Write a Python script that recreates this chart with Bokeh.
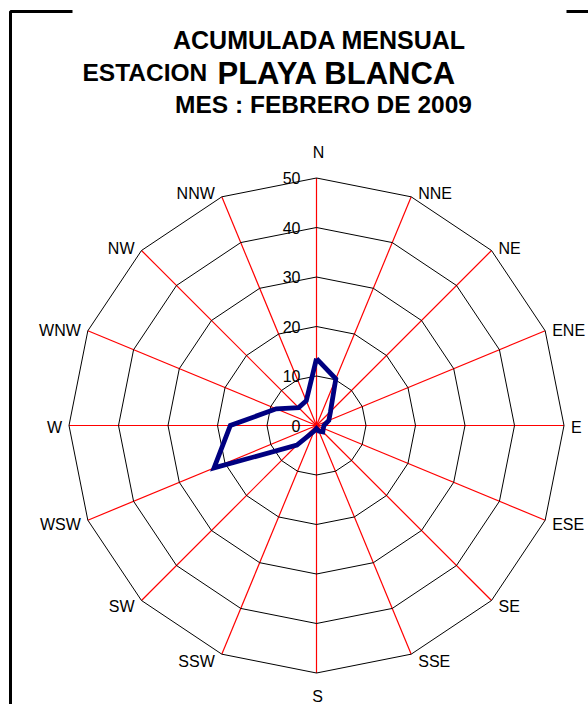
import numpy as np
from bokeh.plotting import figure
from bokeh.models import Range1d, Label
from bokeh.embed import file_html
from bokeh.resources import INLINE

# ---- data ----
directions = ["N", "NNE", "NE", "ENE", "E", "ESE", "SE", "SSE",
              "S", "SSW", "SW", "WSW", "W", "WNW", "NW", "NNW"]
acumulada = [13.5, 10.2, 4.0, 2.7, 1.5, 1.5, 1.8, 1.2,
             0.6, 1.2, 5.6, 22.4, 17.4, 8.8, 5.1, 5.4]
ring_values = [10, 20, 30, 40, 50]
tick_labels = ["0", "10", "20", "30", "40", "50"]
title1 = "ACUMULADA MENSUAL"
title2a = "ESTACION"
title2b = "PLAYA BLANCA"
title3 = "MES : FEBRERO DE 2009"

# ---- layout ----
W, H = 588, 704
OFF = 0
CX, CY = 316, 425          # pixel centre
S = 4.95                   # px per unit
FONT = "Liberation Sans"

def px(xp, yp):
    return ((xp - CX) / S, (CY - yp) / S)

x0, y0 = px(OFF, OFF)
x1, y1 = px(OFF + W, OFF + H)

p = figure(width=W, height=H, output_backend="svg", toolbar_location=None,
           x_range=Range1d(x0, x1), y_range=Range1d(y1, y0),
           min_border=0, tools="")
p.axis.visible = False
p.grid.visible = False
p.outline_line_color = None
p.background_fill_color = "white"
p.border_fill_color = "white"

n = len(directions)
theta = np.arange(n) * 2 * np.pi / n   # bearing from north, clockwise
sx, sy = np.sin(theta), np.cos(theta)
rmax = ring_values[-1]

# spokes
p.segment(x0=[0] * n, y0=[0] * n, x1=list(rmax * sx), y1=list(rmax * sy),
          line_color="#ff0000", line_width=1.2)

# rings
for rv in ring_values:
    xs = list(rv * sx) + [rv * sx[0]]
    ys = list(rv * sy) + [rv * sy[0]]
    p.line(xs, ys, line_color="black", line_width=1)

# data polygon
vals = np.array(acumulada)
dx = list(vals * sx) + [vals[0] * sx[0]]
dy = list(vals * sy) + [vals[0] * sy[0]]
p.line(dx, dy, line_color="#000080", line_width=4.8, line_join="miter")

# tick labels
for i, t in enumerate(tick_labels):
    rv = i * 10
    p.add_layout(Label(x=-16 / S, y=rv, text=t, text_align="right",
                       text_baseline="middle", text_font=FONT,
                       text_font_size="16px", text_color="#000000"))

# direction labels
for i, d in enumerate(directions):
    s, c = sx[i], sy[i]
    vx, vy = rmax * s, rmax * c
    if abs(s) < 1e-6:
        if c > 0:
            lx, ly, al, bl = vx + 2 / S, vy + 26 / S, "center", "middle"
        else:
            lx, ly, al, bl = vx + 1 / S, vy - 23 / S, "center", "middle"
    else:
        al = "left" if s > 0 else "right"
        gap = 7 if s > 0 else -7
        lx = vx + gap / S
        ly = vy + (6 * c - 2) / S
        bl = "middle"
    p.add_layout(Label(x=lx, y=ly, text=d, text_align=al, text_baseline=bl,
                       text_font=FONT, text_font_size="16px",
                       text_color="#000000"))

# titles
def title(xp, yp, txt, size, align="left"):
    x, y = px(xp, yp)
    p.add_layout(Label(x=x, y=y, text=txt, text_align=align,
                       text_baseline="alphabetic", text_font=FONT,
                       text_font_size=size, text_font_style="bold",
                       text_color="#000000"))

title(319, 39, title1, "25px", "center")
title(82, 72, title2a, "24.5px")
title(217, 73, title2b, "31px")
title(323, 104, title3, "24.5px", "center")

# frame fragments
bx = [px(10, 704)[0], px(10, 11)[0], px(72, 11)[0]]
by = [px(10, 704)[1], px(10, 11)[1], px(72, 11)[1]]
p.line(bx, by, line_color="black", line_width=3)
rx = [px(566, 11)[0], px(588, 11)[0]]
ry = [px(566, 11)[1], px(588, 11)[1]]
p.line(rx, ry, line_color="black", line_width=3)

open("out.html", "w").write(file_html(p, INLINE))
